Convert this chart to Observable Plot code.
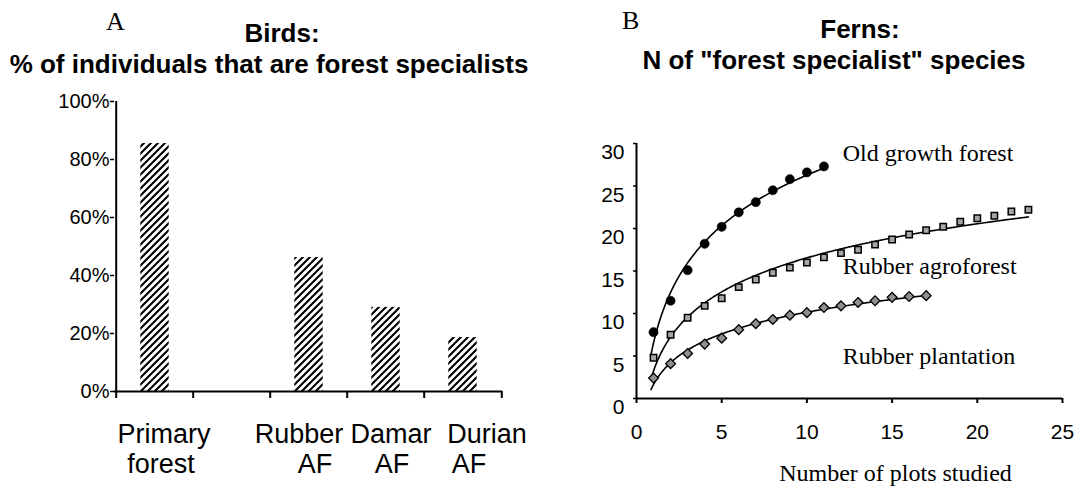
<!DOCTYPE html>
<html>
<head>
<meta charset="utf-8">
<script src="https://cdn.jsdelivr.net/npm/d3@7"></script>
<script src="https://cdn.jsdelivr.net/npm/@observablehq/plot@0.6"></script>
<style>
  body { margin: 0; background: #fff; }
  #wrap { position: relative; width: 1082px; height: 487px; overflow: hidden; background: #fff; color: #000;
          font-family: "Liberation Sans", Arial, sans-serif; }
  .t { position: absolute; z-index: 2; white-space: nowrap; transform: translateX(-50%); font-weight: bold;
       font-size: 26px; line-height: 26px; }
  .p { position: absolute; z-index: 2; font-family: "Liberation Serif", "Times New Roman", serif; font-size: 26px; line-height: 26px; }
  #left, #right { position: absolute; top: 0; z-index: 1; }
  #left { left: 0; }
  #right { left: 541px; }
</style>
</head>
<body>
<div id="wrap">
  <div id="left"></div>
  <div id="right"></div>
  <div class="p" style="left:106px;top:9px">A</div>
  <div class="t" style="left:282px;top:20px">Birds:</div>
  <div class="t" style="left:269px;top:51px">% of individuals that are forest specialists</div>
  <div class="p" style="left:622px;top:8px">B</div>
  <div class="t" style="left:860px;top:16px">Ferns:</div>
  <div class="t" style="left:834px;top:47px">N of "forest specialist" species</div>
</div>
<script>
// ---------- Data: panel A (birds) ----------
const birdCategories = ["Primary forest", "", "Rubber AF", "Damar AF", "Durian AF"];
const birdShares = [85.5, null, 46.2, 29.0, 18.6];
const birdTicks = [0, 20, 40, 60, 80, 100];

// ---------- Data: panel B (ferns), cumulative species per number of plots (1..n) ----------
const oldGrowthForest = [7.8, 11.5, 15.1, 18.2, 20.2, 21.9, 23.1, 24.5, 25.8, 26.6, 27.3];
const rubberAgroforest = [4.8, 7.5, 9.5, 10.9, 11.8, 13.1, 14.0, 14.8, 15.4, 16.0, 16.6, 17.1,
                          17.5, 18.1, 18.7, 19.3, 19.8, 20.2, 20.8, 21.2, 21.5, 22.0, 22.2];
const rubberPlantation = [2.4, 4.1, 5.3, 6.4, 7.1, 8.1, 8.8, 9.3, 9.8, 10.1, 10.7, 10.9,
                          11.3, 11.5, 11.9, 12.0, 12.1];
const seriesNames = ["Old growth forest", "Rubber agroforest", "Rubber plantation"];
const fernXTicks = [0, 5, 10, 15, 20, 25];
const fernYTicks = [0, 5, 10, 15, 20, 25, 30];
const xAxisLabel = "Number of plots studied";

// ---------- Panel A ----------
const birdData = birdCategories
  .map((category, i) => ({category, share: birdShares[i]}))
  .filter(d => d.share != null);

const LW = 541, LML = 114, LMR = 39;
const step = (LW - LML - LMR) / birdCategories.length;
// horizontal nudges of the category label lines (style, as in the original layout)
const firstLineNudge = {"Primary forest": 9, "Rubber AF": -10, "Damar AF": 5, "Durian AF": 24};
const secondLineNudge = 6;
const labelFont = {fontSize: 27, fill: "#000", lineAnchor: "bottom", frameAnchor: "bottom"};

const left = Plot.plot({
  width: LW, height: 487,
  marginLeft: LML, marginRight: LMR, marginTop: 101, marginBottom: 96,
  style: {fontFamily: "'Liberation Sans', Arial, sans-serif", color: "#000", background: "#fff"},
  x: {domain: birdCategories, padding: 0, axis: null},
  y: {domain: [0, 100], axis: null},
  marks: [
    Plot.barY(birdData, {x: "category", y: "share", fill: "url(#hatch)", insetLeft: 24.3, insetRight: 24.3}),
    Plot.ruleY([0], {stroke: "#000", strokeWidth: 2}),
    Plot.ruleX([birdCategories[0]], {x: d => d, dx: -step / 2, stroke: "#000", strokeWidth: 2}),
    Plot.ruleX(birdCategories, {x: d => d, dx: -step / 2, y1: 0, y2: 0, insetBottom: -7, stroke: "#000", strokeWidth: 2}),
    Plot.ruleX([birdCategories[birdCategories.length - 1]], {x: d => d, dx: step / 2, y1: 0, y2: 0, insetBottom: -7, stroke: "#000", strokeWidth: 2}),
    Plot.axisY({ticks: birdTicks, tickFormat: d => d + "%", tickSize: 4, tickPadding: 1, fontSize: 20, label: null, strokeWidth: 1.5}),
    ...birdData.map(d => Plot.text([d], {x: "category", text: e => e.category.split(" ")[0],
                                          dx: firstLineNudge[d.category], dy: 51, ...labelFont})),
    Plot.text(birdData, {x: "category", text: e => e.category.split(" ")[1],
                         dx: secondLineNudge, dy: 81, ...labelFont})
  ]
});
const ns = "http://www.w3.org/2000/svg";
const defs = document.createElementNS(ns, "defs");
defs.innerHTML = `<pattern id="hatch" patternUnits="userSpaceOnUse" width="7" height="7">
  <rect width="7" height="7" fill="#fff"/>
  <path d="M-1,1 l2,-2 M0,7 l7,-7 M6,8 l2,-2" stroke="#000" stroke-width="2.1"/>
</pattern>`;
left.insertBefore(defs, left.firstChild);
document.getElementById("left").appendChild(left);

// ---------- Panel B ----------
function toPoints(values, series) {
  return values.map((y, i) => ({x: i + 1, y, series}));
}
function logFit(values, series) {
  // least-squares fit y = a + b ln(x) to the data, drawn as the trend curve
  const xs = values.map((_, i) => Math.log(i + 1));
  const mx = d3.mean(xs), my = d3.mean(values);
  const b = d3.sum(xs, (x, i) => (x - mx) * (values[i] - my)) / d3.sum(xs, x => (x - mx) ** 2);
  const a = my - b * mx;
  return d3.range(0.85, values.length + 0.001, 0.05).map(x => ({x, y: a + b * Math.log(x), series}));
}
const ogPts = toPoints(oldGrowthForest, seriesNames[0]);
const raPts = toPoints(rubberAgroforest, seriesNames[1]);
const rpPts = toPoints(rubberPlantation, seriesNames[2]);
const fits = [
  ...logFit(oldGrowthForest, seriesNames[0]),
  ...logFit(rubberAgroforest, seriesNames[1]),
  ...logFit(rubberPlantation, seriesNames[2])
];
const seriesLabels = [
  {text: seriesNames[0], x: 12.1, y: 27.9},
  {text: seriesNames[1], x: 12.1, y: 14.6},
  {text: seriesNames[2], x: 12.1, y: 4.1}
];

const right = Plot.plot({
  width: 541, height: 487,
  marginLeft: 95, marginRight: 20, marginTop: 143, marginBottom: 89,
  style: {fontFamily: "'Liberation Sans', Arial, sans-serif", color: "#000", background: "#fff"},
  x: {domain: [0, 25], axis: null},
  y: {domain: [0, 30], axis: null},
  marks: [
    Plot.ruleX([0], {stroke: "#000", strokeWidth: 2}),
    Plot.ruleY([0], {stroke: "#000", strokeWidth: 2}),
    Plot.axisX({ticks: fernXTicks, tickSize: 5, tickPadding: 21, fontSize: 21, label: null, strokeWidth: 2}),
    Plot.axisY({ticks: fernYTicks, tickSize: 3, tickFormat: () => "", label: null, strokeWidth: 1.5}),
    Plot.axisY({ticks: fernYTicks, tickSize: 0, tickPadding: 12, dy: 9, fontSize: 21, label: null}),
    Plot.line(fits, {x: "x", y: "y", z: "series", stroke: "#000", strokeWidth: 1.6}),
    Plot.dot(ogPts, {x: "x", y: "y", r: 4.6, fill: "#000", stroke: "#000", strokeWidth: 0.5}),
    Plot.dot(raPts, {x: "x", y: "y", symbol: "square", r: 3.6, fill: "#a6a6a6", stroke: "#000", strokeWidth: 1.5}),
    Plot.dot(rpPts, {x: "x", y: "y", symbol: "diamond2", r: 4.4, fill: "#8f8f8f", stroke: "#000", strokeWidth: 1.3}),
    Plot.text(seriesLabels, {x: "x", y: "y", text: "text", textAnchor: "start", lineAnchor: "bottom",
                             fontFamily: "'Liberation Serif', 'Times New Roman', serif", fontSize: 24, fill: "#000"}),
    Plot.text([xAxisLabel], {frameAnchor: "bottom", dx: 46, dy: 82, lineAnchor: "bottom",
                             fontFamily: "'Liberation Serif', 'Times New Roman', serif", fontSize: 24, fill: "#000"})
  ]
});
document.getElementById("right").appendChild(right);
</script>
</body>
</html>
